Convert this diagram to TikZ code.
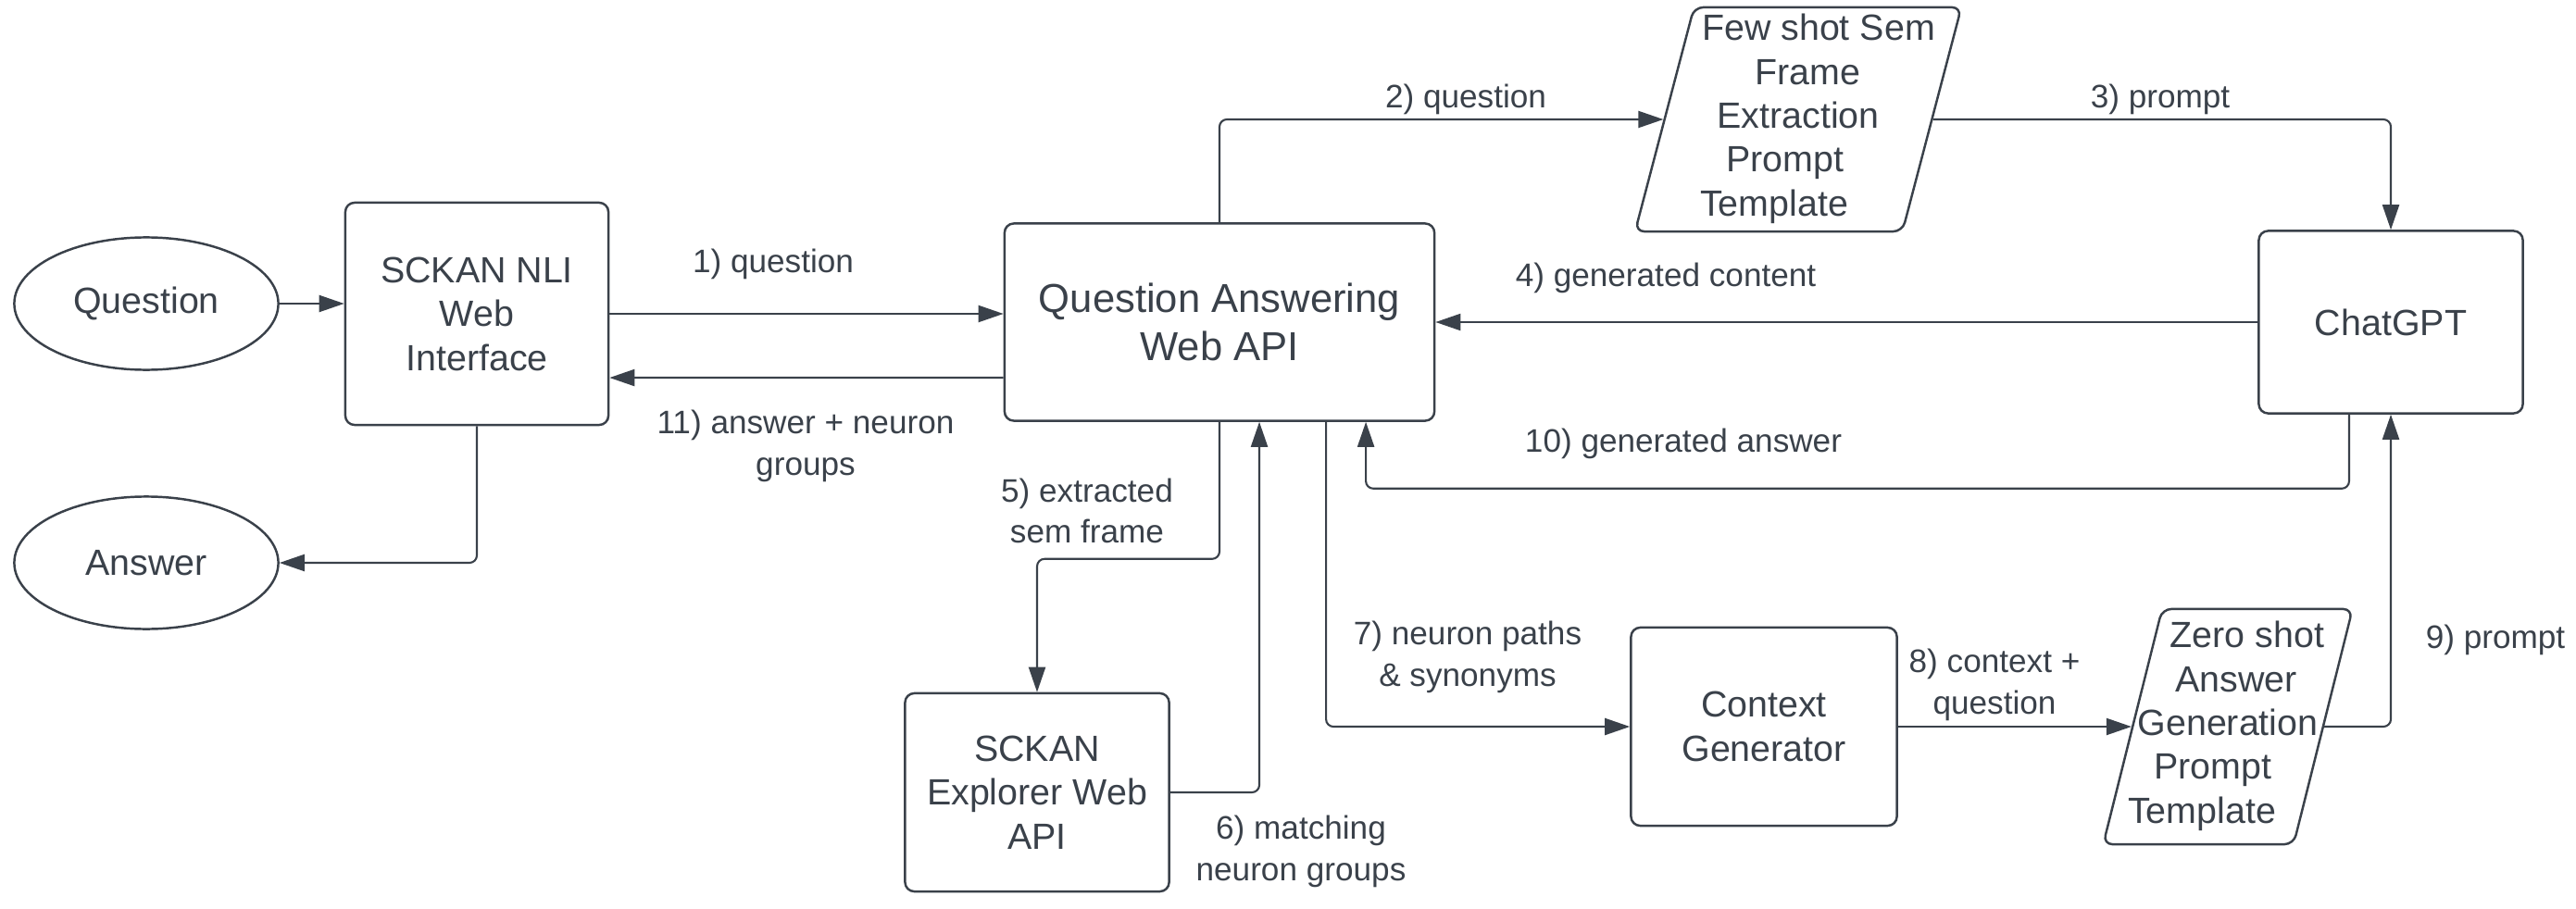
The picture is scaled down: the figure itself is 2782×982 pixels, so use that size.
\documentclass[tikz,border=0pt]{standalone}
\usepackage{fontspec}
\setmainfont{Liberation Sans}
\usetikzlibrary{shapes.geometric,arrows.meta}
\definecolor{linegray}{RGB}{58,65,74}
\tikzset{
  box/.style={
    draw=linegray,
    line width=0.7pt,
    rounded corners=0.1cm,
    text=linegray,
    align=center,
    inner sep=0pt,
    font={\fontsize{11.2}{13.5}\selectfont}
  },
  box-big/.style={box, font={\fontsize{12.4}{14.6}\selectfont}},
  oval/.style={box, ellipse, minimum width=2.85cm, minimum height=1.43cm},
  para/.style={
    box,
    trapezium,
    trapezium left angle=75,
    trapezium right angle=105,
    trapezium stretches body
  },
  flow/.style={
    draw=linegray,
    line width=0.6pt,
    rounded corners=0.08cm,
    -{Triangle[length=0.27cm,width=0.18cm]}
  },
  lbl/.style={text=linegray, align=center, inner sep=0pt, font={\fontsize{10}{12.6}\selectfont}}
}
% one line of a slanted box, moved sideways along the slant
\newcommand{\shiftline}[2]{\hspace*{#1}#2\hspace*{-#1}}
% text block of fixed width, lines may run into the slanted sides
\newcommand{\slantbody}[2]{\makebox[#1]{\begin{tabular}{@{}c@{}}#2\end{tabular}}}

\begin{document}
\begin{tikzpicture}[x=0.01cm, y=-0.01cm]
  \useasboundingbox (0,0) rectangle (2782,982);
  % Shapes
  \node[oval] (question) at (158,328) {Question};
  \node[oval] (answer) at (158,608) {Answer};
  \node[box, minimum width=2.84cm, minimum height=2.40cm] (nli) at (515,339) {SCKAN NLI\\Web\\Interface};
  \node[box-big, minimum width=4.64cm, minimum height=2.13cm] (qa) at (1317,348) {Question Answering\\Web API};
  \node[para, minimum height=2.42cm] (few) at (1942,129)
    {\slantbody{2.25cm}{\shiftline{0.22cm}{Few shot Sem}\\\shiftline{0.1cm}{Frame}\\Extraction\\\shiftline{-0.14cm}{Prompt}\\\shiftline{-0.26cm}{Template}}};
  \node[box, minimum width=2.85cm, minimum height=1.97cm] (chat) at (2582,348) {ChatGPT};
  \node[box, minimum width=2.85cm, minimum height=2.14cm] (explorer) at (1120,856) {SCKAN\\Explorer Web\\API};
  \node[box, minimum width=2.87cm, minimum height=2.14cm] (context) at (1905,785) {Context\\Generator};
  \node[para, minimum height=2.54cm] (zero) at (2406,785)
    {\slantbody{1.42cm}{\shiftline{0.21cm}{Zero shot}\\\shiftline{0.09cm}{Answer}\\Generation\\\shiftline{-0.16cm}{Prompt}\\\shiftline{-0.28cm}{Template}}};
  % Connectors
  \draw[flow] (question.east) -- (question.east -| nli.west);
  \draw[flow] (nli.south) |- (answer.east);
  \draw[flow] (nli.east) -- (nli.east -| qa.west);
  \draw[flow] ([yshift=-0.6cm]qa.west) -- ([yshift=-0.69cm]nli.east);
  \draw[flow] (qa.north) |- (few.west);
  \draw[flow] (few.east) -| (chat.north);
  \draw[flow] (chat.west) -- (qa.east);
  \draw[flow] (qa.south) -- ++(0,148) -| (explorer.north);
  \draw[flow] (explorer.east) -| ([xshift=0.43cm]qa.south);
  \draw[flow] ([xshift=1.15cm]qa.south) |- (context.west);
  \draw[flow] (context.east) -- (zero.west);
  \draw[flow] (zero.east) -| (chat.south);
  \draw[flow] ([xshift=-0.45cm]chat.south) -- ++(0,80) -| ([xshift=1.58cm]qa.south);
  % Labels
  \node[lbl] (l1) at (835,285) {1) question};
  \node[lbl] (l2) at (1583,107) {2) question};
  \node[lbl] (l3) at (2333,107) {3) prompt};
  \node[lbl] (l4) at (1799,300) {4) generated content};
  \node[lbl] (l5) at (1174,552) {5) extracted\\sem frame};
  \node[lbl] (l6) at (1405,920) {6) matching\\neuron groups};
  \node[lbl] (l7) at (1585,710) {7) neuron paths\\\& synonyms};
  \node[lbl] (l8) at (2154,740) {8) context +\\question};
  \node[lbl] (l9) at (2695,691) {9) prompt};
  \node[lbl] (l10) at (1818,479) {10) generated answer};
  \node[lbl] (l11) at (870,482) {11) answer + neuron\\groups};
\end{tikzpicture}
\end{document}
